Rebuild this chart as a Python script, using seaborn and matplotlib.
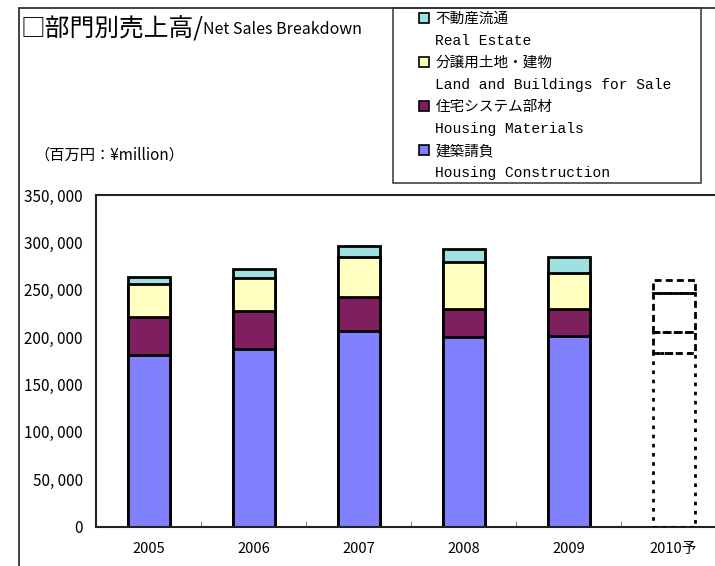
import matplotlib
matplotlib.use("Agg")
import matplotlib.pyplot as plt
from matplotlib.patches import Patch, Rectangle
from matplotlib.ticker import FixedLocator, FuncFormatter
import numpy as np
import pandas as pd
import seaborn as sns

# ---- data ----
years = ["2005", "2006", "2007", "2008", "2009", "2010予"]
forecast = [False, False, False, False, False, True]
construction = [181500, 187800, 206800, 200500, 201500, 183600]
materials = [39400, 39800, 35900, 29500, 28500, 22200]
land = [35200, 34500, 41900, 49000, 38000, 40500]
real_estate = [7700, 9500, 11900, 14000, 16300, 13700]
yticks = [0, 50000, 100000, 150000, 200000, 250000, 300000, 350000]

series_jp = ["建築請負", "住宅システム部材", "分譲用土地・建物", "不動産流通"]
series_en = ["Housing Construction", "Housing Materials",
             "Land and Buildings for Sale", "Real Estate"]
colors = ["#8080FF", "#7F1F5F", "#FFFFC0", "#A0E0E0"]

JP = "Noto Sans CJK JP"
MONO = ["Liberation Mono", "Noto Sans CJK JP"]
plt.rcParams["font.family"] = [JP, "DejaVu Sans"]

W, H = 715, 566
fig = plt.figure(figsize=(W / 100, H / 100), dpi=100)

def fx(px):
    return px / W

def fy(py):
    return 1 - py / H

ax = fig.add_axes([fx(96), fy(526.7), fx(726) - fx(96), fy(195) - fy(526.7)])

df = pd.DataFrame({
    "year": years,
    "forecast": forecast,
    "c1": construction,
    "c2": materials,
    "c3": land,
    "c4": real_estate,
})
df["cum1"] = df["c1"]
df["cum2"] = df["cum1"] + df["c2"]
df["cum3"] = df["cum2"] + df["c3"]
df["cum4"] = df["cum3"] + df["c4"]

actual = df[~df["forecast"]]
for col, color in zip(["cum4", "cum3", "cum2", "cum1"], colors[::-1]):
    sns.barplot(data=actual, x="year", y=col, order=years, color=color,
                saturation=1, width=0.4, edgecolor="black", linewidth=2,
                ax=ax, zorder=2)

# forecast: outline-only stacked segments
fc = df[df["forecast"]]
xpos = years.index(fc["year"].iloc[0])
bottoms = [0, fc["cum1"].iloc[0], fc["cum2"].iloc[0], fc["cum3"].iloc[0]]
heights = [fc["c1"].iloc[0], fc["c2"].iloc[0], fc["c3"].iloc[0], fc["c4"].iloc[0]]
styles = [(0, (1.3, 2.0)), (0, (2.5, 1.5)), (0, (2.5, 1.5)), (0, (2.5, 1.5))]
for b, h, ls in zip(bottoms, heights, styles):
    ax.bar(xpos, h, bottom=b, width=0.4, fill=False, edgecolor="black",
           linewidth=2, linestyle=ls, zorder=3)

ax.set_xlim(-0.5, len(years) - 0.5)
ax.set_ylim(0, 350000)
ax.set_xlabel("")
ax.set_ylabel("")
ax.yaxis.set_major_locator(FixedLocator(yticks))
ax.yaxis.set_major_formatter(FuncFormatter(lambda v, p: f"{int(v):,}".replace(",", ", ")))
ax.tick_params(axis="y", length=0, pad=9.5, labelsize=11)
ax.tick_params(axis="x", which="major", length=0, pad=11, labelsize=10.5)
ax.set_xticks(np.arange(len(years)) + 0.5, minor=True)
ax.tick_params(axis="x", which="minor", direction="in", length=4, color="#666666")
for lab in ax.get_xticklabels() + ax.get_yticklabels():
    lab.set_family([JP, "DejaVu Sans"])
for s in ax.spines.values():
    s.set_color("#222222")
    s.set_linewidth(1.5)
ax.set_facecolor("white")

# chart border and legend box
fig.patches.append(Rectangle((fx(19), -0.1), 1.2, fy(8) + 0.1, transform=fig.transFigure,
                             fill=False, edgecolor="#333333", linewidth=1.3, zorder=0))
fig.patches.append(Rectangle((fx(393), fy(183)), fx(701) - fx(393), fy(8) - fy(183),
                             transform=fig.transFigure, fill=False,
                             edgecolor="#333333", linewidth=1.1, zorder=0))

# title and unit
fig.text(fx(21), fy(28), "□部門別売上高/", fontsize=17.8, family=[JP, "DejaVu Sans"],
         va="center", ha="left")
fig.text(fx(203), fy(29), "Net Sales Breakdown", fontsize=11.5, family=[JP, "DejaVu Sans"],
         va="center", ha="left")
fig.text(fx(34), fy(155), "（百万円：¥million）", fontsize=11, family=[JP, "DejaVu Sans"],
         va="center", ha="left")

# legend (reverse order, two rows per entry)
handles, labels = [], []
for jp, en, c in list(zip(series_jp, series_en, colors))[::-1]:
    handles.append(Patch(facecolor=c, edgecolor="black", linewidth=1.2))
    labels.append(jp)
    handles.append(Patch(facecolor="none", edgecolor="none"))
    labels.append(en)
fig.legend(handles, labels, loc="upper left", bbox_to_anchor=(fx(419), fy(12)),
           bbox_transform=fig.transFigure, frameon=False,
           prop={"family": MONO, "size": 10.5},
           handlelength=0.7, handleheight=0.7, handletextpad=0.42,
           labelspacing=0.55, borderpad=0, borderaxespad=0)

fig.savefig("out.png", dpi=100, facecolor="white")
